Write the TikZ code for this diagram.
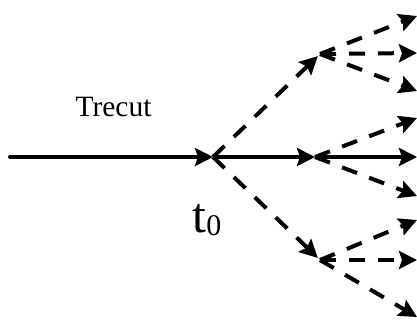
\documentclass[tikz,border=0pt]{standalone}
\usepackage{fontspec}
\setmainfont{Liberation Serif}
\usetikzlibrary{arrows.meta}
\tikzset{
  conn/.style={line width=4pt, -{Stealth[length=18pt,width=18pt,inset=3pt]}},
  dconn/.style={conn, dash pattern=on 16pt off 13pt},
  lbl/.style={inner sep=0pt, anchor=base}
}
\begin{document}
\begin{tikzpicture}[x=1pt,y=1pt]
\useasboundingbox (0,0) rectangle (417,322);
\coordinate (s) at (10,165);
\coordinate (t0) at (213,165);
\coordinate (m) at (315,165);
\coordinate (a) at (320,268);
\coordinate (b) at (320,62);
\coordinate (a1) at (417,306);
\coordinate (a2) at (417,269);
\coordinate (a3) at (417,231);
\coordinate (m1) at (417,204);
\coordinate (m2) at (417,165);
\coordinate (m3) at (417,126);
\coordinate (b1) at (417,102);
\coordinate (b2) at (417,62);
\coordinate (b3) at (417,5);
\draw[conn, line cap=round] (s) -- (t0);
\draw[conn] (t0) -- (m);
\draw[dconn, shorten >=3pt] (t0) -- (a);
\draw[dconn, shorten >=3pt] (t0) -- (b);
\draw[dconn] (a) -- (a1);
\draw[dconn] (a) -- (a2);
\draw[dconn] (a) -- (a3);
\draw[dconn] (m) -- (m1);
\draw[conn] (m) -- (m2);
\draw[dconn] (m) -- (m3);
\draw[dconn] (b) -- (b1);
\draw[dconn] (b) -- (b2);
\draw[dconn] (b) -- (b3);
\node[lbl] (trecut) at (113.5,206) {\fontsize{29.5}{30}\selectfont Trecut};
\node[lbl] (tlab) at (207,90) {\fontsize{50}{50}\selectfont t\raisebox{-3pt}{\fontsize{30}{30}\selectfont 0}};
\end{tikzpicture}
\end{document}
